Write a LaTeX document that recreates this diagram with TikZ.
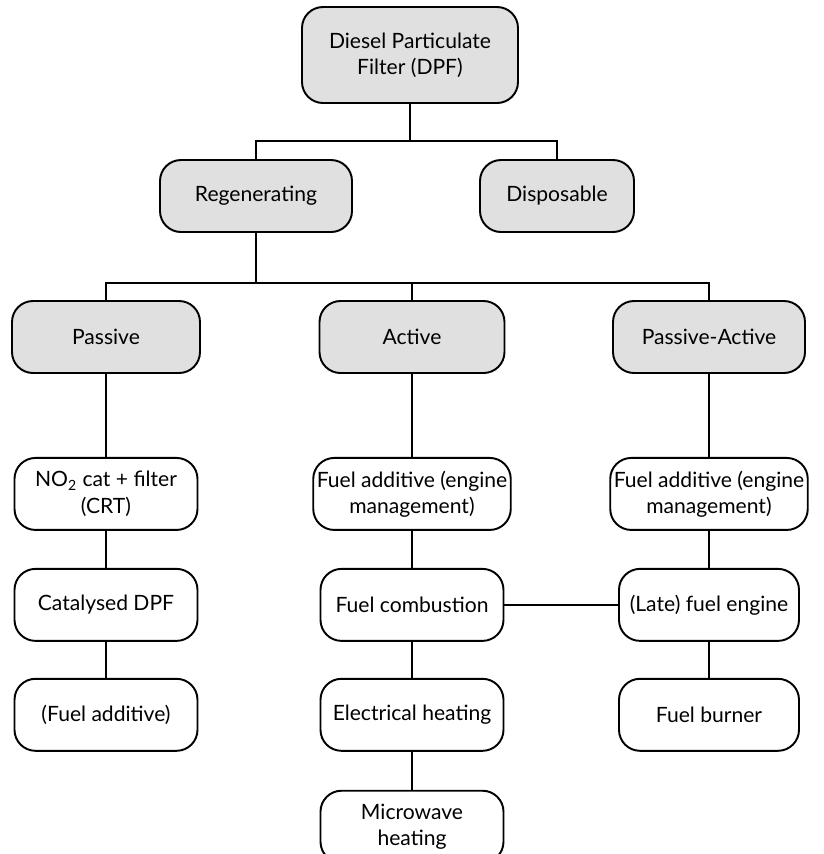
\documentclass[tikz,border=0pt]{standalone}
\usepackage{fontspec}
\setmainfont{Lato}
\usetikzlibrary{positioning}

\begin{document}
\begin{tikzpicture}[
  box/.style={draw, line width=1.1pt, rounded corners=0.42cm, align=center,
    font=\fontsize{12}{15}\selectfont, inner sep=2pt,
    minimum width=3.66cm, minimum height=1.44cm},
  grey/.style={box, fill=black!12},
  link/.style={line width=1.1pt}
]
\useasboundingbox (0,0) rectangle (16.48,-17.08);
% top levels
\node[grey, minimum width=4.32cm, minimum height=1.92cm] (dpf) at (8.2,-1.1) {Diesel Particulate\\Filter (DPF)};
\node[grey, minimum width=3.84cm] (regen) at (5.12,-3.92) {Regenerating};
\node[grey, minimum width=3.08cm] (disp) at (11.14,-3.92) {Disposable};
\node[grey, minimum width=3.76cm] (pas) at (2.12,-6.74) {Passive};
\node[grey, minimum width=3.7cm] (act) at (8.24,-6.74) {Active};
\node[grey, minimum width=3.84cm] (pasact) at (14.18,-6.74) {Passive-Active};
% passive column
\node[box, below=1.66cm of pas] (crt) {NO\textsubscript{2} cat + filter\\(CRT)};
\node[box, below=0.74cm of crt] (catdpf) {Catalysed DPF};
\node[box, below=0.72cm of catdpf] (fadd) {(Fuel additive)};
% active column
\node[box, minimum width=3.74cm, below=1.66cm of act] (faddA) {Fuel additive (engine\\management)};
\node[box, below=0.74cm of faddA] (fcomb) {Fuel combustion};
\node[box, below=0.72cm of fcomb] (elec) {Electrical heating};
\node[box, below=0.76cm of elec] (micro) {Microwave\\heating};
% passive-active column
\node[box, minimum width=3.82cm, below=1.66cm of pasact] (faddP) {Fuel additive (engine\\management)};
\node[box, minimum width=3.6cm, below=0.74cm of faddP] (late) {(Late) fuel engine};
\node[box, minimum width=3.6cm, below=0.72cm of late] (burner) {Fuel burner};
% connectors
\draw[link] (dpf.south) -- ++(0,-0.74) -| (regen.north);
\draw[link] (dpf.south) -- ++(0,-0.74) -| (disp.north);
\draw[link] (regen.south) -- ++(0,-1) -| (pas.north);
\draw[link] (regen.south) -- ++(0,-1) -| (act.north);
\draw[link] (regen.south) -- ++(0,-1) -| (pasact.north);
\draw[link] (pas) -- (crt) -- (catdpf) -- (fadd);
\draw[link] (act) -- (faddA) -- (fcomb) -- (elec) -- (micro);
\draw[link] (pasact) -- (faddP) -- (late) -- (burner);
\draw[link] (fcomb) -- (late);
\end{tikzpicture}
\end{document}
